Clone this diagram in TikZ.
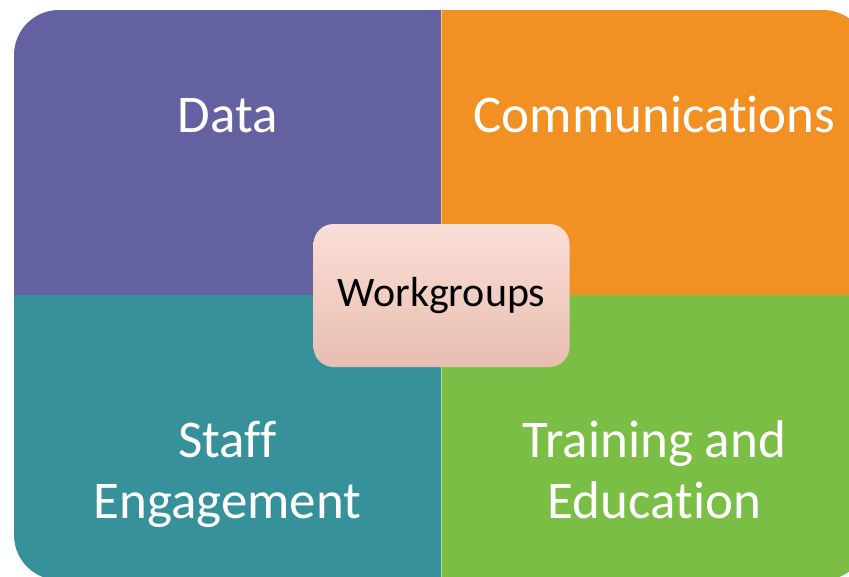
\documentclass[tikz,border=0pt]{standalone}
\usepackage{fontspec}
\setmainfont{Carlito}[Ligatures=NoCommon]
\definecolor{quadpurple}{RGB}{100,97,160}
\definecolor{quadorange}{RGB}{242,145,35}
\definecolor{quadteal}{RGB}{55,145,155}
\definecolor{quadgreen}{RGB}{122,190,70}
\definecolor{hubtop}{RGB}{250,222,214}
\definecolor{hubbottom}{RGB}{232,190,177}
\begin{document}
\begin{tikzpicture}[x=1pt,y=-1pt,
  quadlabel/.style={text=white,align=center,inner sep=0pt,anchor=base,
    font=\fontsize{53}{61}\selectfont},
  hub/.style={rounded corners=20,minimum width=256,minimum height=143,
    top color=hubtop,bottom color=hubbottom,inner sep=0pt,
    font=\fontsize{42}{50}\selectfont}]
\useasboundingbox (0,0) rectangle (849,576);
% the four quadrants, clipped to one rounded frame
\begin{scope}
\clip[rounded corners=45] (14,10) rectangle (868,580);
\fill[quadpurple] (14,10) rectangle (441,295);
\fill[quadorange] (441,10) rectangle (868,295);
\fill[quadteal] (14,295) rectangle (441,580);
\fill[quadgreen] (441,295) rectangle (868,580);
\draw[white,opacity=0.5,line width=0.8] (441,10) -- (441,580);
\end{scope}
\node[quadlabel] (data) at (227.5,132) {Data};
\node[quadlabel] (comms) at (654.5,132) {Communications};
\node[quadlabel] (staff) at (227.5,518) {Staff\\Engagement};
\node[quadlabel] (train) at (654.5,518) {Training and\\Education};
% centre box
\node[hub] (hub) at (441.5,295.5) {Workgroups};
\end{tikzpicture}
\end{document}
